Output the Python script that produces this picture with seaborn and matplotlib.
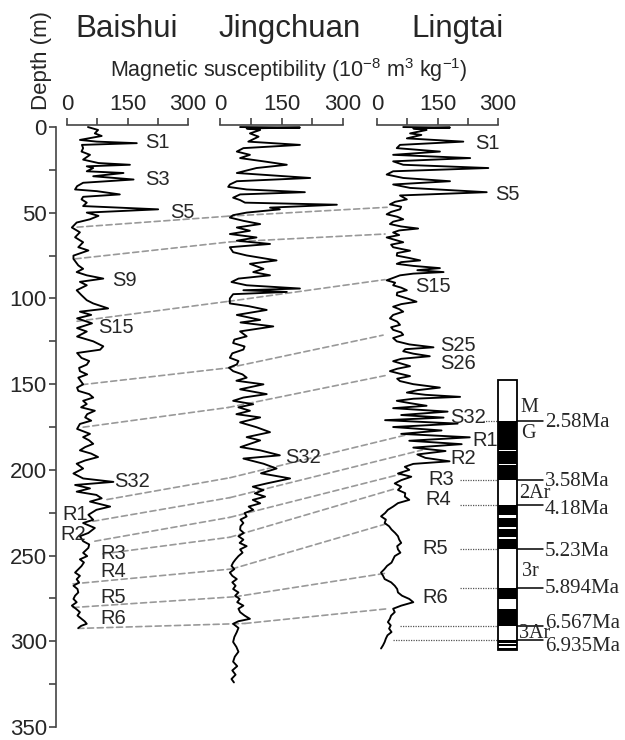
import numpy as np
import matplotlib
matplotlib.use("Agg")
import matplotlib.pyplot as plt
from matplotlib.patches import ConnectionPatch
import seaborn as sns

# ---- susceptibility records: depth (m) and chi (1e-8 m3 kg-1) ----
baishui_depth = [0, 1.7, 3.7, 5.2, 7.5, 8.5, 9.4, 10.4, 12.3, 14.3, 16.2, 19, 21, 22, 22.9, 23.9,
                 25.8, 26.8, 28.7, 30.6, 32.5, 34.5, 36.4, 37.4, 39.3, 40.7, 42.2, 44.1, 46.1, 48,
                 49.9, 51.8, 53.8, 55.7, 58.6, 61.4, 64.3, 67.2, 70.1, 72, 75, 76.9, 80.7, 82.7,
                 84.6, 86.5, 88.4, 90.3, 92.3, 95.2, 98.1, 101, 102.9, 105.8, 107.7, 109.6, 111.6,
                 114.5, 117.3, 119.3, 122.2, 125, 127.9, 129.9, 131.8, 134.7, 136.5, 138.6, 140.5,
                 142.4, 144.3, 146.2, 150.1, 152, 153.9, 155.8, 157.8, 159.7, 161.6, 163.5, 165.5,
                 167.5, 169.4, 171.3, 173.2, 176.1, 179, 180.9, 182.8, 184.8, 186.7, 188.6, 190.5,
                 192.5, 194.5, 196.4, 199.2, 202.1, 205, 207, 208.8, 210.8, 212.7, 214.6, 216.6,
                 218.5, 221.4, 223.3, 226.2, 229.1, 231, 233.9, 236.8, 238.7, 241.6, 243.5, 245.5,
                 248.4, 250.3, 252.2, 254, 256.1, 258, 259.9, 261.8, 263.8, 265.7, 267.6, 269.5,
                 271.5, 273.4, 275.3, 277.2, 279.2, 281, 283, 285, 286.9, 288.4, 289.8, 291, 292.3]
baishui_chi = [52, 77, 69, 86, 32, 74, 173, 37, 40, 36, 57, 40, 78, 156, 49, 65,
               49, 140, 65, 165, 40, 25, 20, 74, 131, 40, 36, 49, 40, 226,
               49, 78, 57, 24, 12, 32, 20, 40, 28, 53, 16, 16, 28, 40,
               24, 49, 90, 32, 49, 24, 36, 49, 65, 102, 32, 60, 25,
               62, 25, 49, 25, 65, 90, 82, 25, 36, 55, 49, 30,
               32, 50, 28, 40, 25, 28, 55, 65, 40, 49, 35, 69,
               50, 45, 60, 32, 25, 57, 40, 55, 65, 45, 32, 60,
               77, 45, 24, 40, 16, 40, 115, 20, 57, 24, 73, 86,
               57, 107, 73, 53, 65, 40, 69, 53, 32, 40, 55, 53,
               40, 50, 32, 42, 36, 28, 20, 32, 24, 30, 16, 26,
               28, 20, 16, 24, 12, 22, 32, 26, 36, 44, 49, 35, 28]

jingchuan_depth = [0, 0.3, 0.8, 1.7, 3.7, 5.6, 8.5, 10.4, 12.3, 14.3, 16.2, 18.1, 20, 22, 23.9,
                   26.8, 29.7, 31.6, 33.5, 34.9, 36.4, 38, 39.3, 41.2, 42.6, 44.1, 45.3, 47, 48,
                   49.9, 51.4, 52.8, 54.7, 56.6, 58.6, 60.5, 62.4, 64.4, 66.3, 68.2, 70.1, 73,
                   74.9, 77.8, 79.8, 82.7, 84.6, 86.5, 88.4, 90.4, 92.3, 94.2, 95.2, 96.2, 97.5,
                   100, 102.9, 104.5, 106.7, 109.6, 112.5, 114, 116.3, 119.2, 122.1, 124, 126, 128,
                   129.8, 132, 134.6, 136.5, 138.5, 140.4, 142.4, 144.3, 146.2, 148, 150.1, 153,
                   155.8, 157.8, 159.7, 161.7, 163.5, 165.5, 167.5, 169.4, 172.3, 175.1, 178,
                   180.9, 182.8, 184.8, 186.7, 188.6, 191.5, 193.4, 196.4, 199.2, 202, 205, 207.9,
                   209.8, 211.8, 213.7, 215.6, 217.5, 219.5, 221.4, 223.3, 225.2, 227.2, 229, 231,
                   232.9, 234.9, 236.8, 238.7, 240.7, 242.6, 244.5, 246.4, 248.3, 250.3, 252.2,
                   254.1, 256, 257.9, 259.9, 261.8, 263.7, 265.6, 267.6, 269.5, 271.5, 273.4,
                   275.3, 277.2, 279.2, 281, 283, 285, 286.9, 288.3, 289.8, 292.2, 294.6, 297.5,
                   300.4, 303.3, 306.1, 309, 311.9, 314.5, 317, 319.5, 322, 324]
jingchuan_chi = [49, 195, 65, 98, 73, 94, 69, 195, 57, 41, 73, 49, 106, 163, 89,
                 41, 220, 41, 24, 20, 65, 207, 49, 32, 49, 61, 285, 122, 146,
                 65, 32, 24, 57, 98, 41, 73, 24, 89, 41, 122, 24, 32,
                 65, 138, 73, 106, 81, 122, 45, 28, 65, 195, 57, 163, 32,
                 24, 24, 70, 114, 41, 98, 50, 130, 49, 65, 35, 32, 60,
                 57, 30, 24, 45, 41, 22, 32, 55, 65, 40, 106, 49,
                 114, 57, 32, 81, 45, 73, 40, 98, 49, 89, 122,
                 65, 98, 73, 50, 98, 146, 57, 106, 138, 100, 171, 114,
                 80, 106, 85, 110, 80, 98, 70, 81, 60, 65, 50, 57,
                 50, 49, 58, 45, 57, 48, 65, 49, 55, 45, 38,
                 32, 28, 35, 24, 30, 41, 30, 38, 32, 45, 37,
                 48, 42, 57, 45, 49, 60, 73, 45, 32, 45, 41, 35,
                 32, 40, 45, 36, 32, 42, 30, 38, 28, 34]

lingtai_depth = [0, 0.3, 0.8, 1.7, 3.7, 4.6, 6.6, 8.5, 10.4, 12.3, 14.3, 16.2, 18.1, 20, 22, 23.9,
                 25.8, 27.7, 29.7, 31.6, 33.5, 35.5, 38, 39.9, 42.2, 43.6, 45.1, 46.5, 48, 49.5,
                 50.9, 52.3, 53.8, 55.2, 56.6, 58, 59.2, 60.3, 61.5, 63, 64.4, 65.8, 67.2, 68.6,
                 70.1, 71.1, 72.1, 73.5, 75, 76.4, 77.8, 78.8, 79.8, 81, 82.3, 83.5, 84.6, 85.5,
                 86.5, 88, 89.4, 90.8, 92.3, 93.7, 95.2, 96.6, 98.1, 100, 101.9, 103.3, 104.8,
                 106.2, 107.7, 109.6, 111.6, 113.5, 115.4, 116.8, 118.3, 119.8, 121.2, 123.1, 125,
                 126.8, 128.5, 129.6, 130.8, 132.2, 133.7, 135.2, 136.6, 138, 139.5, 141, 142.4,
                 143.8, 145.3, 146.8, 148.2, 150, 152, 153.5, 154.9, 156.2, 157.4, 158.5, 159.7,
                 161, 162.6, 164, 166, 168, 169.5, 171, 173, 175, 177, 179, 181, 183, 185, 187,
                 189, 191, 193, 195, 196.5, 198.2, 200, 202.1, 204, 206, 207.9, 209.8, 211.7,
                 213.6, 215.6, 217.5, 219.4, 221.4, 223.3, 225.2, 227.1, 229, 231, 232.9, 234.8,
                 236.8, 238.7, 240.7, 242.6, 244.5, 246.4, 248.3, 250.3, 252.2, 254.1, 256, 258,
                 259.9, 261.8, 263.7, 265.6, 267.6, 269.5, 271.5, 273.4, 275.3, 277.2, 279.2, 281,
                 283, 285, 286.9, 288.8, 290.7, 292.6, 294.6, 296.5, 298.4, 300.4, 302.3, 304.2]
lingtai_chi = [65, 181, 90, 123, 82, 110, 74, 214, 57, 49, 156, 40, 231, 40, 65, 276,
               40, 24, 65, 181, 40, 82, 272, 57, 74, 45, 32, 60, 57, 35,
               24, 50, 65, 40, 32, 60, 102, 55, 40, 55, 24, 45, 65, 35,
               40, 60, 82, 50, 49, 80, 107, 60, 49, 90, 156, 100, 165, 90,
               57, 40, 24, 45, 40, 60, 74, 50, 49, 75, 98, 60, 40,
               55, 65, 40, 32, 50, 57, 35, 40, 60, 65, 40, 49,
               80, 140, 70, 65, 90, 131, 60, 40, 60, 82, 50, 32,
               55, 82, 50, 57, 90, 156, 100, 74, 120, 206, 90, 49,
               80, 123, 40, 175, 60, 165, 20, 200, 40, 160, 60, 230, 80, 210, 90,
               170, 100, 120, 180, 90, 69, 80, 52, 85, 60, 44, 60, 52,
               70, 69, 80, 52, 40, 27, 20, 10, 22, 19, 30, 36,
               45, 52, 55, 60, 50, 52, 58, 44, 40, 36, 25, 18,
               10, 15, 19, 35, 44, 50, 52, 62, 80, 90, 60, 40,
               44, 35, 32, 27, 34, 30, 36, 26, 22, 19, 15, 10]

# ---- peak labels (chi, depth) ----
baishui_labels = ['S1', 'S3', 'S5', 'S9', 'S15', 'S32', 'R1', 'R2', 'R3', 'R4', 'R5', 'R6']
baishui_label_chi = [193, 193, 255, 112, 77, 117, -12, -17, 82, 82, 82, 82]
baishui_label_depth = [9.2, 30.6, 49.7, 89.6, 117, 207, 226, 237.5, 248.5, 259, 274.6, 286.7]
jingchuan_labels = ['S32']
jingchuan_label_chi = [158]
jingchuan_label_depth = [192.5]
lingtai_labels = ['S1', 'S5', 'S15', 'S25', 'S26', 'S32', 'R1', 'R2', 'R3', 'R4', 'R5', 'R6']
lingtai_label_chi = [243, 293, 94, 156, 156, 181, 236, 181, 127, 119, 112, 112]
lingtai_label_depth = [9.4, 39.3, 93, 127.2, 138.2, 169.4, 182.7, 193.6, 205.8, 217.3, 245.7, 274.6]

# ---- correlation tie points (Baishui -> Jingchuan -> Lingtai) ----
tie_b_chi = [25, 20, 25, 37, 40, 99, 64, 69, 89, 15, 15, 27]
tie_b_depth = [58.4, 76.9, 113.3, 150.3, 175.1, 217.3, 230, 241.6, 249, 266.5, 280.3, 292.5]
tie_j_chi = [20, 24, 20, 20, 20, 24, 24, 24, 24, 29, 37, 61]
tie_j_depth = [52, 67, 101.7, 140.5, 163.6, 204.6, 216.2, 227.7, 239.3, 257.8, 274, 289.6]
tie_l_chi = [25, 20, 20, 15, 20, 69, 112, 62, 45, 27, 27, 27]
tie_l_depth = [46.8, 62.4, 89, 121.4, 145, 179.8, 188.4, 202.3, 211, 231.2, 260.1, 281]

# ---- magnetostratigraphy at Lingtai ----
column_top, column_bottom = 147.3, 305.2
normal_top = [171.4, 189.1, 197.4, 220.2, 228.0, 234.7, 240.5, 268.7, 281.1, 299.5, 301.7, 303.8]
normal_bottom = [188.2, 196.5, 205.8, 226.5, 233.2, 239.0, 246.2, 275.3, 290.8, 300.9, 303.0, 305.2]
age_labels = ['2.58Ma', '3.58Ma', '4.18Ma', '5.23Ma', '5.894Ma', '6.567Ma', '6.935Ma']
age_depth = [171.4, 205.8, 220.2, 246.2, 268.7, 290.8, 299.5]
age_label_depth = [172.3, 207, 223, 247.4, 269.4, 289.6, 303]
age_tie_start = [263, 206, 206, 206, 206, 57, 40]
chron_labels = ['M', 'G', '2Ar', '3r', '3Ar']
chron_label_depth = [163.6, 179, 214, 259, 295.4]

sns.set_style("white")
plt.rcParams['font.family'] = ['Liberation Sans', 'DejaVu Sans']
plt.rcParams['mathtext.default'] = 'regular'
SERIF = ['Liberation Serif', 'DejaVu Serif']

W, H = 625, 740
fig = plt.figure(figsize=(W / 100, H / 100), dpi=100)


def px_axes(x0, x1, y0=125, y1=727):
    return fig.add_axes([x0 / W, 1 - y1 / H, (x1 - x0) / W, (y1 - y0) / H])


ax_b = px_axes(67, 188)
ax_j = px_axes(220, 343)
ax_l = px_axes(377, 498)
ax_p = px_axes(498, 517)

axis_col = '#444444'
panels = [(ax_b, baishui_depth, baishui_chi, baishui_labels, baishui_label_chi, baishui_label_depth),
          (ax_j, jingchuan_depth, jingchuan_chi, jingchuan_labels, jingchuan_label_chi, jingchuan_label_depth),
          (ax_l, lingtai_depth, lingtai_chi, lingtai_labels, lingtai_label_chi, lingtai_label_depth)]

for ax, dep, chi, labs, lchi, ldep in panels:
    sns.lineplot(x=chi, y=dep, sort=False, estimator=None, color='black', lw=1.35, ax=ax, zorder=3)
    ax.set_xlim(0, 300)
    ax.set_ylim(350, -1.2)
    ax.patch.set_alpha(0)
    for s in ('bottom', 'right', 'left'):
        ax.spines[s].set_visible(False)
    ax.spines['top'].set_color(axis_col)
    ax.spines['top'].set_linewidth(1.2)
    ax.xaxis.set_ticks_position('top')
    ax.set_xticks([0, 150, 300])
    ax.set_xticks([75, 225], minor=True)
    ax.tick_params(axis='x', which='both', direction='out', length=5, width=1.2, color=axis_col,
                   pad=2.5, labelsize=16, top=True, bottom=False, labeltop=True, labelbottom=False)
    ax.set_yticks([])
    ax.set_xlabel('')
    ax.set_ylabel('')
    for t, x, y in zip(labs, lchi, ldep):
        ax.text(x, y, t, fontsize=14.5, ha='left', va='center', clip_on=False, zorder=4)

# depth axis on the Baishui panel
ax_b.spines['left'].set_visible(True)
ax_b.spines['left'].set_color(axis_col)
ax_b.spines['left'].set_linewidth(1.2)
ax_b.spines['left'].set_position(('outward', 8))
ax_b.spines['left'].set_bounds(0, 350)
ax_b.set_yticks(np.arange(0, 351, 50))
ax_b.set_yticks(np.arange(25, 350, 50), minor=True)
ax_b.tick_params(axis='y', which='both', left=True, direction='out', length=5, width=1.2,
                 color=axis_col, labelsize=16, pad=1.5)

# dashed correlation lines
for i in range(len(tie_b_depth)):
    segs = [(ax_b, tie_b_chi[i], tie_b_depth[i], ax_j, tie_j_chi[i], tie_j_depth[i]),
            (ax_j, tie_j_chi[i], tie_j_depth[i], ax_l, tie_l_chi[i], tie_l_depth[i])]
    for a1, x1, y1, a2, x2, y2 in segs:
        con = ConnectionPatch(xyA=(x1, y1), coordsA='data', axesA=a1,
                              xyB=(x2, y2), coordsB='data', axesB=a2,
                              color='#999999', lw=1.2, linestyle=(0, (3.6, 2.2)),
                              clip_on=False, zorder=1)
        ax_b.add_artist(con)

# dotted ties from Lingtai to the polarity column
for x0, d in zip(age_tie_start, age_depth):
    ax_l.plot([x0, 300], [d, d], ls=(0, (1, 1)), color='#555555', lw=0.9, clip_on=False, zorder=2)

# polarity column
ax_p.set_xlim(0, 1)
ax_p.set_ylim(350, -1.2)
ax_p.axis('off')
bars = ax_p.bar(0.5, column_bottom - column_top, bottom=column_top, width=1, color='white', lw=0)
bars += ax_p.bar([0.5] * len(normal_top), np.subtract(normal_bottom, normal_top), bottom=normal_top,
                 width=1, color='black', lw=0)
bars += ax_p.bar(0.5, column_bottom - column_top, bottom=column_top, width=1, fill=False,
                 edgecolor='black', lw=1.3)
for p in bars:
    p.set_clip_on(False)
for d, dl, t in zip(age_depth, age_label_depth, age_labels):
    ax_p.plot([1, 2.37], [d, d], color='black', lw=1.1, clip_on=False)
    ax_p.text(2.47, dl, t, family=SERIF, fontsize=15, ha='left', va='center', clip_on=False)
for t, d, x in zip(chron_labels, chron_label_depth, [1.2, 1.2, 1.1, 1.25, 1.1]):
    ax_p.text(x, d, t, family=SERIF, fontsize=14.5, ha='left', va='center', clip_on=False)

# titles and axis captions
for name, xc in zip(['Baishui', 'Jingchuan', 'Lingtai'], [127, 290, 457]):
    fig.text(xc / W, 1 - 37 / H, name, fontsize=22.5, ha='center', va='baseline')
fig.text(289 / W, 1 - 77 / H, 'Magnetic susceptibility (10$^{-8}$ m$^{3}$ kg$^{-1}$)',
         fontsize=15.5, ha='center', va='baseline')
fig.text(42 / W, 1 - 60 / H, 'Depth (m)', fontsize=16, rotation=90, ha='center', va='center')

fig.savefig('out.png', dpi=100)
